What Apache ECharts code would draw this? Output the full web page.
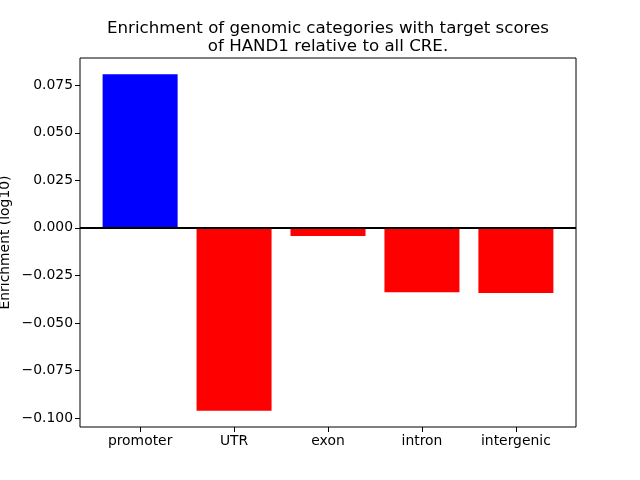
<!DOCTYPE html>
<html><head><meta charset="utf-8">
<script src="https://cdn.jsdelivr.net/npm/echarts@6/dist/echarts.min.js"></script>
<style>html,body{margin:0;padding:0;background:#fff}#c{width:640px;height:480px}</style>
</head><body><div id="c"></div>
<script>
const categories = ["promoter", "UTR", "exon", "intron", "intergenic"];
const values = [0.0808, -0.0961, -0.0043, -0.0338, -0.0343];
const barColors = ["#0000ff", "#ff0000", "#ff0000", "#ff0000", "#ff0000"];
const yTicks = [-0.1, -0.075, -0.05, -0.025, 0, 0.025, 0.05, 0.075];
const titleText = "Enrichment of genomic categories with target scores\nof HAND1 relative to all CRE.";
const yName = "Enrichment (log10)";

const chart = echarts.init(document.getElementById('c'), null, {renderer: 'canvas'});
const font = "DejaVu Sans";
const fmtY = v => v.toFixed(3).replace('-', '\u2212');
chart.setOption({
  animation: false,
  backgroundColor: '#fff',
  title: {
    text: titleText, left: 323, top: 14, textAlign: 'center',
    textStyle: {fontFamily: font, fontSize: 16.67, fontWeight: 'normal', color: '#000', lineHeight: 18.5}
  },
  grid: {left: 80, right: 64, top: 58, bottom: 53, containLabel: false, outerBoundsMode: 'none',
    show: true, borderColor: '#000', borderWidth: 1, backgroundColor: 'transparent'},
  xAxis: {
    type: 'value', min: -0.64, max: 4.64,
    splitLine: {show: false},
    axisLine: {show: false, onZero: false},
    axisTick: {show: true, length: 5, lineStyle: {color: '#000'}, customValues: categories.map((c, i) => i)},
    axisLabel: {customValues: categories.map((c, i) => i), formatter: v => categories[Math.round(v)] || '',
      fontFamily: font, fontSize: 13.9, color: '#000', margin: 7}
  },
  yAxis: {
    type: 'value', min: -0.1047, max: 0.0893,
    name: yName, nameLocation: 'middle', nameGap: 68, nameMoveOverlap: false,
    nameTextStyle: {fontFamily: font, fontSize: 13.9, color: '#000'},
    splitLine: {show: false},
    axisLine: {show: false, onZero: false},
    axisTick: {show: true, length: 5, lineStyle: {color: '#000'}, customValues: yTicks},
    axisLabel: {customValues: yTicks, formatter: fmtY, fontFamily: font, fontSize: 13.9, color: '#000', margin: 7}
  },
  series: [{
    type: 'bar',
    barWidth: 75,
    data: values.map((v, i) => ({value: [i, v], itemStyle: {color: barColors[i]}})),
    markLine: {
      silent: true, symbol: 'none', label: {show: false},
      lineStyle: {color: '#000', width: 2, type: 'solid'},
      data: [{yAxis: 0}]
    }
  }]
});
</script></body></html>
